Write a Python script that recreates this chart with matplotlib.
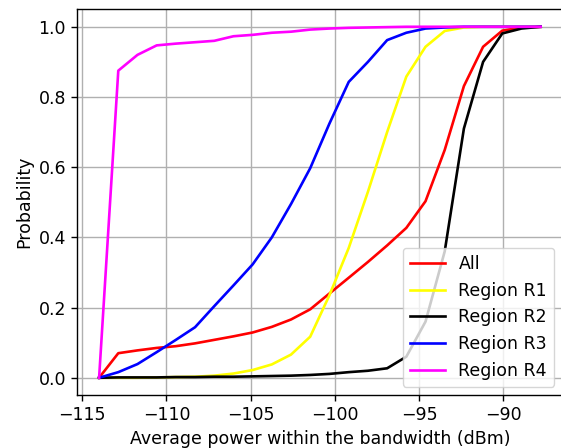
import matplotlib
matplotlib.use("Agg")
from matplotlib import pyplot as plt

# average power grid (dBm), shared by all curves
power = [-114.0, -112.86, -111.72, -110.58, -109.44, -108.3, -107.16, -106.02,
         -104.88, -103.74, -102.6, -101.46, -100.32, -99.17, -98.03, -96.89,
         -95.75, -94.61, -93.47, -92.33, -91.19, -90.05, -88.91, -87.77]

cdf_all = [0.0, 0.07, 0.078, 0.085, 0.09, 0.098, 0.108, 0.118, 0.129, 0.145,
           0.166, 0.195, 0.24, 0.285, 0.33, 0.377, 0.427, 0.503, 0.649, 0.831,
           0.943, 0.989, 0.998, 1.0]
cdf_r1 = [0.0, 0.0, 0.0, 0.001, 0.002, 0.003, 0.006, 0.012, 0.022, 0.038,
          0.066, 0.117, 0.235, 0.37, 0.53, 0.70, 0.858, 0.943, 0.988, 0.998,
          1.0, 1.0, 1.0, 1.0]
cdf_r2 = [0.0, 0.001, 0.001, 0.001, 0.002, 0.002, 0.003, 0.003, 0.004, 0.005,
          0.006, 0.008, 0.011, 0.016, 0.02, 0.027, 0.06, 0.16, 0.36, 0.71,
          0.90, 0.981, 0.995, 1.0]
cdf_r3 = [0.0, 0.016, 0.039, 0.073, 0.108, 0.144, 0.204, 0.263, 0.323, 0.40,
          0.495, 0.597, 0.724, 0.843, 0.90, 0.962, 0.983, 0.995, 0.998, 1.0,
          1.0, 1.0, 1.0, 1.0]
cdf_r4 = [0.0, 0.875, 0.92, 0.947, 0.952, 0.956, 0.960, 0.973, 0.977, 0.983,
          0.986, 0.992, 0.995, 0.997, 0.998, 0.999, 1.0, 1.0, 1.0, 1.0,
          1.0, 1.0, 1.0, 1.0]

labels = ["All", "Region R1", "Region R2", "Region R3", "Region R4"]
colors = ["red", "yellow", "black", "blue", "magenta"]

# the original looks like a default plot rendered ~1.25x larger
plt.rcParams.update({
    "font.size": 12.5,
    "axes.linewidth": 1.0,
    "grid.linewidth": 1.0,
    "xtick.major.size": 4.4,
    "ytick.major.size": 4.4,
    "xtick.major.width": 1.0,
    "ytick.major.width": 1.0,
})

fig = plt.figure(figsize=(5.61, 4.48), dpi=100)
ax = fig.add_axes([0.1373, 0.1176, 0.8658, 0.8618])

for cdf, label, color in zip([cdf_all, cdf_r1, cdf_r2, cdf_r3, cdf_r4], labels, colors):
    ax.plot(power, cdf, color=color, linewidth=1.9, label=label)

ax.grid(True)
ax.set_xlabel("Average power within the bandwidth (dBm)")
ax.set_ylabel("Probability")
ax.legend(loc="lower right")

fig.savefig("out.png", dpi=100)
